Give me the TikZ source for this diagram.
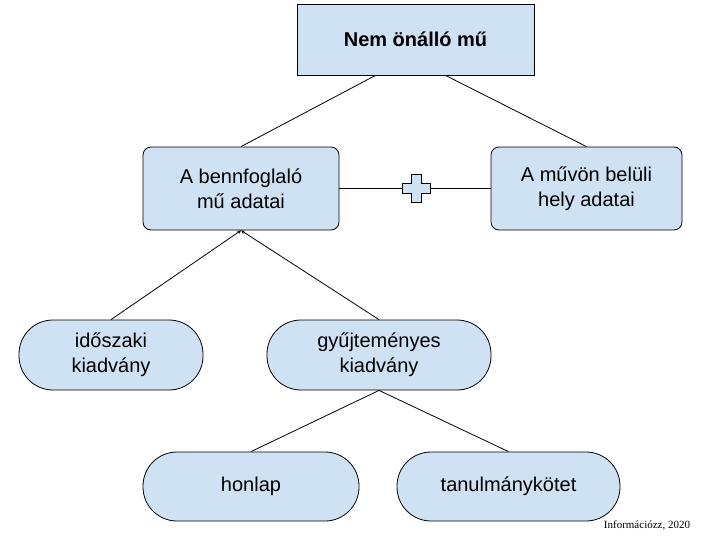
\documentclass[tikz,border=0pt]{standalone}
\usepackage{fontspec}
\setmainfont{Liberation Sans}
\newfontfamily\serifsmall{Liberation Serif}
\begin{document}
\begin{tikzpicture}[x=1pt,y=-1pt,
  box/.style={draw=black,fill=blue!25!cyan!10!white,line width=0.8pt,align=center,font=\fontsize{20}{25}\selectfont,inner sep=0pt},
  con/.style={line width=0.8pt}]
\definecolor{bx}{HTML}{CFE2F3}
\useasboundingbox (0,0) rectangle (711,541);
\tikzset{box/.append style={fill=bx}}
\node[box,minimum width=237,minimum height=71,font=\fontsize{20}{25}\selectfont\bfseries] (top) at (415.5,39.5) {Nem önálló mű};
\node[box,rounded corners=8,minimum width=196,minimum height=83] (ben) at (241,188.5) {A bennfoglaló\\mű adatai};
\node[box,rounded corners=8,minimum width=191,minimum height=83] (bel) at (586.5,188.5) {A művön belüli\\hely adatai};
\node[box,rounded corners=34,minimum width=184,minimum height=70] (ido) at (111,355) {időszaki\\kiadvány};
\node[box,rounded corners=34,minimum width=224,minimum height=70] (gyu) at (379,355) {gyűjteményes\\kiadvány};
\node[box,rounded corners=34,minimum width=216,minimum height=69] (hon) at (251,486.5) {honlap};
\node[box,rounded corners=34,minimum width=223,minimum height=69] (tan) at (508.5,486.5) {tanulmánykötet};
\draw[con] (top.south) ++(-40,0) coordinate (t1) -- (ben.north);
\draw[con] (top.south) ++(30,0) coordinate (t2) -- (bel.north);
\draw[con] (ben.east) -- (bel.east -| bel.west);
\node[draw=black,fill=bx,line width=0.8pt,inner sep=0pt] (plus) at (416,188) {};
\fill[bx,draw=black,line width=0.8pt] (411,174)--(421,174)--(421,183)--(430,183)--(430,193)--(421,193)--(421,202)--(411,202)--(411,193)--(402,193)--(402,183)--(411,183)--cycle;
\draw[con,-stealth] (ido.north) -- (ben.south);
\draw[con,-stealth] (gyu.north) -- (ben.south);
\draw[con] (gyu.south) -- (hon.north);
\draw[con] (gyu.south) -- (tan.north);
\node[font=\serifsmall\fontsize{11}{13}\selectfont] (cap) at (647,525) {Információzz, 2020};
\end{tikzpicture}
\end{document}
